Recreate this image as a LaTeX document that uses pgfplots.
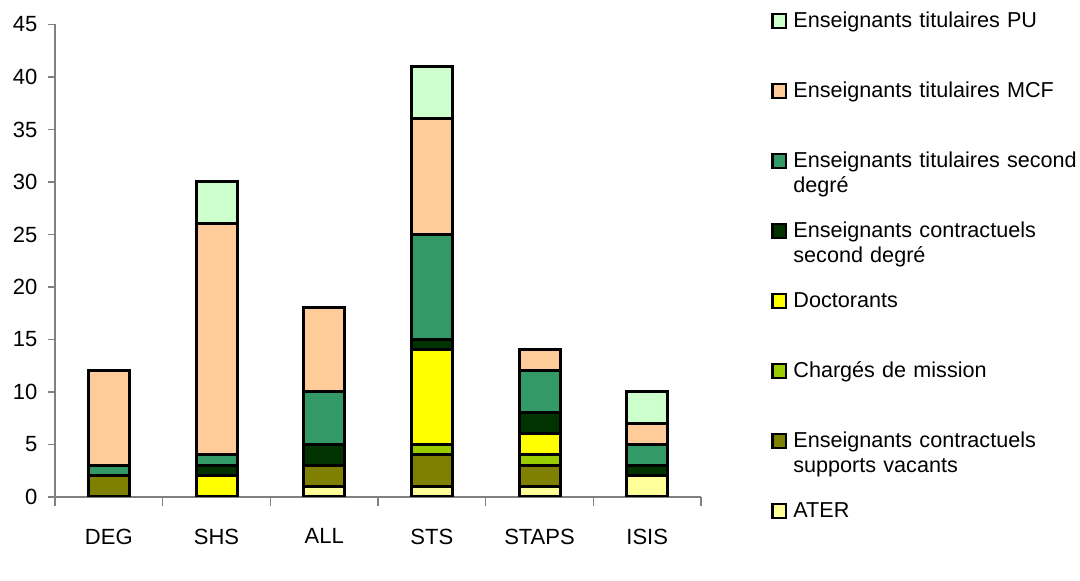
\documentclass[border=0pt]{standalone}
\usepackage{fontspec}
\setmainfont{Liberation Sans}
\usepackage{pgfplots}
\pgfplotsset{compat=1.18}
\definecolor{cPU}{HTML}{CCFFCC}
\definecolor{cMCF}{HTML}{FFCC99}
\definecolor{cETSD}{HTML}{339966}
\definecolor{cECSD}{HTML}{003300}
\definecolor{cDoc}{HTML}{FFFF00}
\definecolor{cCM}{HTML}{99CC00}
\definecolor{cESV}{HTML}{808000}
\definecolor{cATER}{HTML}{FFFF99}
\definecolor{axgray}{HTML}{808080}
\begin{document}
\fontsize{11}{12.5}\selectfont
\begin{tikzpicture}
\begin{axis}[name=ax,
  scale only axis, width=323pt, height=236.25pt,
  ybar stacked, bar width=20.5pt,
  xmin=-0.5, xmax=5.5, ymin=0, ymax=45,
  enlarge x limits=false, enlarge y limits=false,
  xtick={0,...,5}, xticklabels={DEG,SHS,ALL,STS,STAPS,ISIS},
  minor xtick={-0.5,0.5,...,5.5},
  ytick={0,5,...,45},
  axis x line*=bottom, axis y line*=left,
  axis line style={draw=axgray, line width=0.8pt},
  tick align=outside,
  major tick length=3.5pt, minor tick length=4.5pt,
  x tick style={draw=none},
  minor x tick style={draw=axgray, line width=0.7pt},
  y tick style={draw=axgray, line width=0.7pt},
  /pgf/number format/assume math mode=true,
  ticklabel style={font=\fontsize{11}{12.5}\selectfont},
  xticklabel style={yshift=-8.5pt},
  yticklabel style={xshift=-1.5pt},
  every axis plot/.append style={draw=black, line width=1.5pt},
  reverse legend,
  legend cell align=left,
  legend image code/.code={\draw[#1, line width=1.1pt] (0.3pt,9.2pt) rectangle (7.2pt,16.1pt);},
  legend style={draw=none, fill=none, inner sep=0pt, at={(1,1)}, anchor=north west,
    xshift=35pt, yshift=6.75pt, row sep=0pt, column sep=3pt,
    nodes={inner sep=0pt, text width=150pt, align=left, text height=8pt, text depth=27pt,
      font=\fontsize{10.8}{12.5}\selectfont}},
]
\addplot[fill=cATER] coordinates {(0,0) (1,0) (2,1) (3,1) (4,1) (5,2)};
\addlegendentry{ATER}
\addplot[fill=cESV] coordinates {(0,2) (1,0) (2,2) (3,3) (4,2) (5,0)};
\addlegendentry{Enseignants contractuels\\supports vacants}
\addplot[fill=cCM] coordinates {(0,0) (1,0) (2,0) (3,1) (4,1) (5,0)};
\addlegendentry{Chargés de mission}
\addplot[fill=cDoc] coordinates {(0,0) (1,2) (2,0) (3,9) (4,2) (5,0)};
\addlegendentry{Doctorants}
\addplot[fill=cECSD] coordinates {(0,0) (1,1) (2,2) (3,1) (4,2) (5,1)};
\addlegendentry{Enseignants contractuels\\second degré}
\addplot[fill=cETSD] coordinates {(0,1) (1,1) (2,5) (3,10) (4,4) (5,2)};
\addlegendentry{Enseignants titulaires \mbox{second}\\degré}
\addplot[fill=cMCF] coordinates {(0,9) (1,22) (2,8) (3,11) (4,2) (5,2)};
\addlegendentry{Enseignants titulaires MCF}
\addplot[fill=cPU] coordinates {(0,0) (1,4) (2,0) (3,5) (4,0) (5,3)};
\addlegendentry{Enseignants titulaires PU}
\end{axis}
\pgfresetboundingbox
\useasboundingbox ([shift={(-27.5pt,-42pt)}]ax.south west) rectangle ([shift={(189.5pt,12.25pt)}]ax.north east);
\end{tikzpicture}
\end{document}
